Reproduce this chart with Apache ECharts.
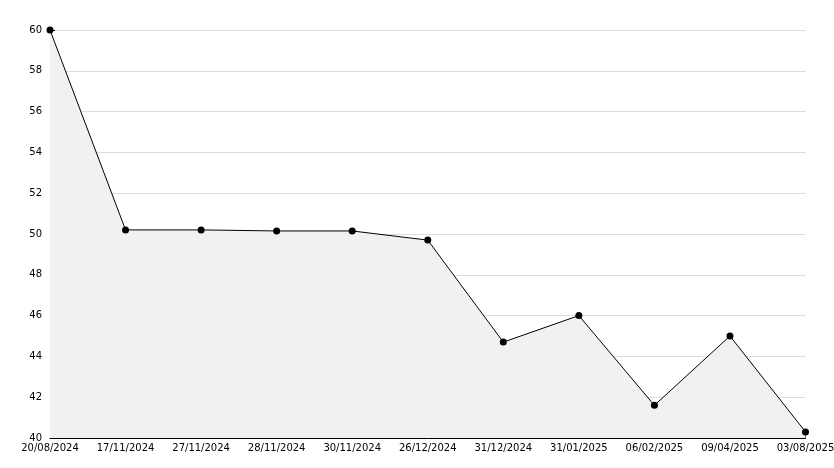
<!DOCTYPE html>
<html><head><meta charset="utf-8">
<script src="https://cdn.jsdelivr.net/npm/echarts@6/dist/echarts.min.js"></script>
<style>html,body{margin:0;padding:0;background:#fff}#c{width:834px;height:468px}</style>
</head><body><div id="c"></div>
<script>
const categories = ["20/08/2024","17/11/2024","27/11/2024","28/11/2024","30/11/2024","26/12/2024","31/12/2024","31/01/2025","06/02/2025","09/04/2025","03/08/2025"];
const values = [60, 50.2, 50.2, 50.15, 50.15, 49.7, 44.7, 46.0, 41.6, 45.0, 40.3];
const yMin = 40, yMax = 60, yStep = 2;

const chart = echarts.init(document.getElementById('c'), null, {renderer:'canvas'});
const font = 'DejaVu Sans';
chart.setOption({
  animation:false,
  grid:{left:50,right:28.5,top:30,bottom:30,containLabel:false,outerBoundsMode:'none'},
  xAxis:{type:'category',data:categories,boundaryGap:false,
    axisLine:{lineStyle:{color:'#000',width:1}},
    axisTick:{show:true,inside:true,length:6,interval:0,lineStyle:{color:'#000'}},
    axisLabel:{color:'#000',fontFamily:font,fontSize:10,margin:5,interval:0,hideOverlap:false},
    splitLine:{show:false}},
  yAxis:{type:'value',min:yMin,max:yMax,interval:yStep,
    axisLine:{show:true,lineStyle:{color:'#000',width:1}},
    axisTick:{show:true,inside:true,length:5,lineStyle:{color:'#000'}},
    minorTick:{show:true,splitNumber:2,length:4,lineStyle:{color:'#000'}},
    axisLabel:{color:'#000',fontFamily:font,fontSize:10,margin:8},
    splitLine:{show:true,lineStyle:{color:'#dcdcdc',width:1}}},
  series:[{type:'line',data:values,symbol:'circle',symbolSize:7,
    itemStyle:{color:'#000'},lineStyle:{color:'#000',width:1},
    areaStyle:{color:'#f1f1f1',opacity:1,origin:'start'}}]
});
</script></body></html>
